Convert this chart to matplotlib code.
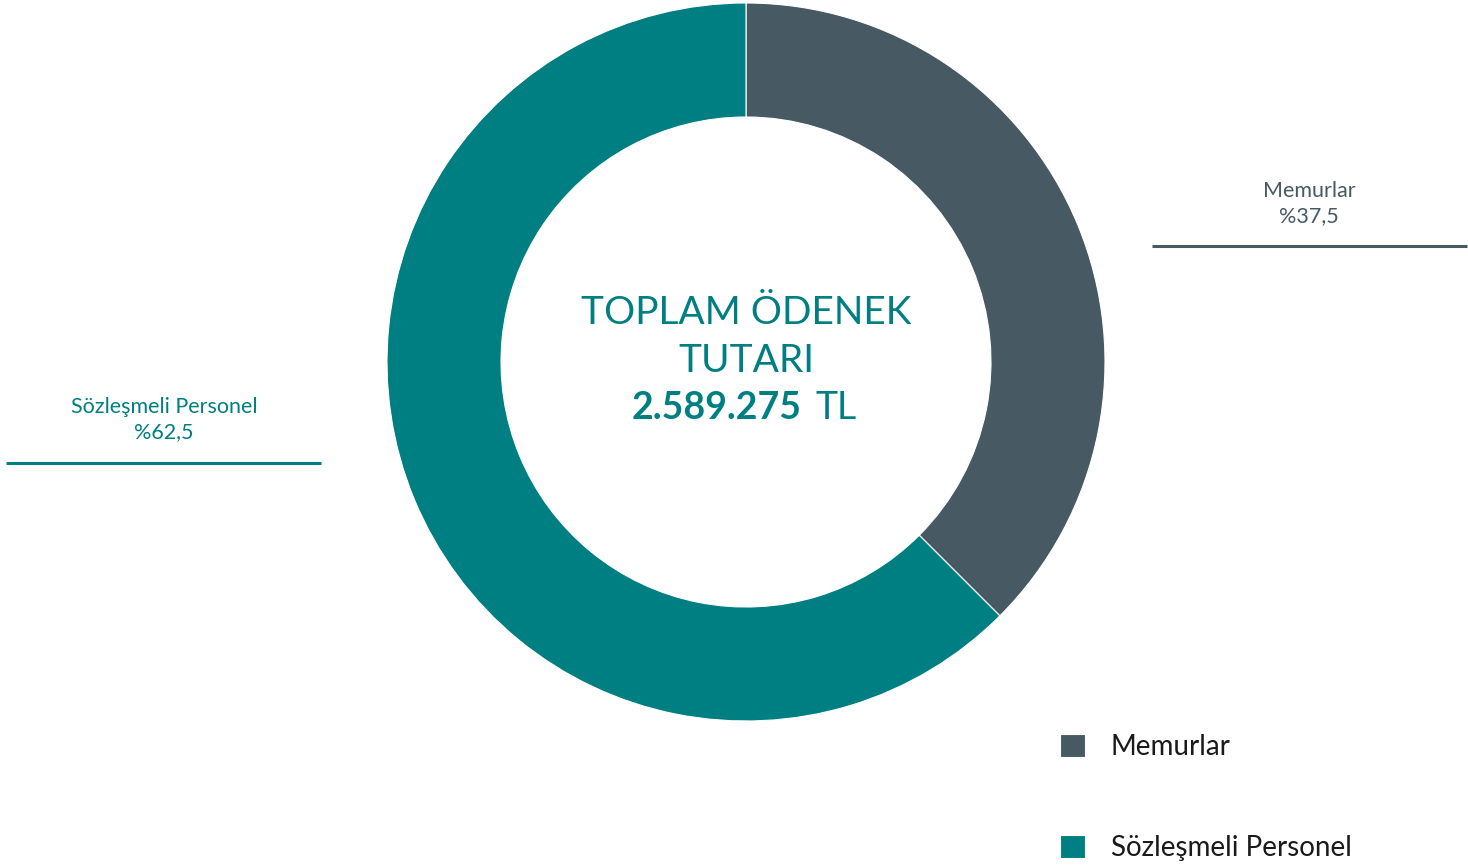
import matplotlib.pyplot as plt

# Ödenek dağılımı
categories = ['Memurlar', 'Sözleşmeli Personel']
shares = [37.5, 62.5]
share_labels = ['%37,5', '%62,5']
colors = ['#475A64', '#007F82']
total_label = '2.589.275'

plt.rcParams['font.family'] = ['Lato', 'DejaVu Sans']

W, H = 1468, 866
fig = plt.figure(figsize=(W / 100, H / 100), dpi=100)
ax = fig.add_axes([0, 0, 1, 1])

# halka grafik, saat yönünde tepeden başlıyor
cx, cy = 746, H - 362
r_out, r_in = 359, 245
wedges, _ = ax.pie(shares, colors=colors, startangle=90, counterclock=False,
                   center=(cx, cy), radius=r_out, frame=True,
                   wedgeprops=dict(width=r_out - r_in, edgecolor='white', linewidth=0.8))
ax.set_xlim(0, W)
ax.set_ylim(0, H)
ax.set_aspect('equal')
ax.axis('off')

# ortadaki toplam
teal = colors[1]
ax.text(cx, H - 313, 'TOPLAM ÖDENEK', ha='center', va='center', fontsize=28, color=teal)
ax.text(cx, H - 361, 'TUTARI', ha='center', va='center', fontsize=28, color=teal)
ax.text(cx + 56, H - 408, total_label, ha='right', va='center', fontsize=27,
        fontweight='bold', color=teal)
ax.text(cx + 70, H - 408, 'TL', ha='left', va='center', fontsize=27, color=teal)

# yan etiketler ve çizgileri
side = [(1309, 191, 1152, 1467, 246), (164, 407, 6, 321, 463)]
for (tx, ty, x0, x1, ly), name, lab, c in zip(side, categories, share_labels, colors):
    ax.text(tx, H - ty, name, ha='center', va='center', fontsize=15.5, color=c)
    ax.text(tx, H - ty - 25, lab, ha='center', va='center', fontsize=15.5, color=c)
    ax.plot([x0, x1], [H - ly, H - ly], color=c, lw=2.2, solid_capstyle='butt')

leg = ax.legend(wedges, categories, loc='upper left', bbox_to_anchor=(1060 / W, 1 - 734 / H),
                bbox_transform=fig.transFigure, frameon=False, fontsize=20,
                handlelength=0.9, handleheight=0.9, handletextpad=0.92,
                labelspacing=2.7, borderpad=0, borderaxespad=0)
for t in leg.get_texts():
    t.set_color('#1a1a1a')

fig.savefig('out.png', dpi=100)
